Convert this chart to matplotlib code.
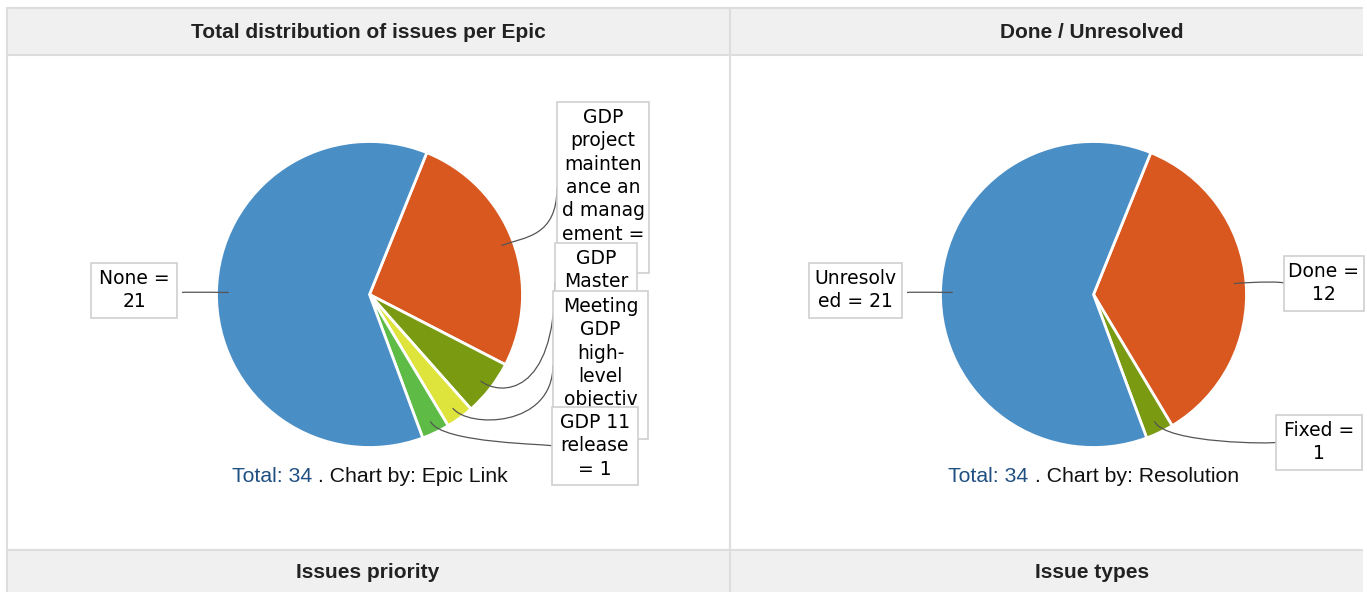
import matplotlib
matplotlib.use("Agg")
import matplotlib.pyplot as plt
from matplotlib.patches import Rectangle, PathPatch
from matplotlib.path import Path
import numpy as np

W, H = 1367, 592

# Epic chart, slices listed in the order they run clockwise from the top
epic_names = ["GDP project maintenance and management", "GDP Master",
              "Meeting GDP high-level objective", "GDP 11 release", "None"]
epic_counts = [9, 2, 1, 1, 21]
epic_colors = ["#d85820", "#7a9a12", "#dee43c", "#5ebc46", "#4a8ec6"]
epic_label_lines = [
    ["GDP", "project", "mainten", "ance an", "d manag", "ement =", "9"],
    ["GDP", "Master", "= 2"],
    ["Meeting", "GDP", "high-", "level", "objectiv", "e = 1"],
    ["GDP 11", "release", "= 1"],
    ["None =", "21"],
]

# Resolution chart
res_names = ["Done", "Fixed", "Unresolved"]
res_counts = [12, 1, 21]
res_colors = ["#d85820", "#7a9a12", "#4a8ec6"]
res_label_lines = [["Done =", "12"], ["Fixed =", "1"], ["Unresolv", "ed = 21"]]

headers_top = ["Total distribution of issues per Epic", "Done / Unresolved"]
headers_bottom = ["Issues priority", "Issue types"]
chart_by = ["Epic Link", "Resolution"]

# layout (pixels, y down)
R = 153
CENTERS = [(369.5, 294.5), (1093.5, 294.5)]
START = -68          # first slice edge sits 22 deg clockwise from 12 o'clock
LINE_H = 23.3
epic_boxes = [(557, 102, 92), (555, 243, 82), (553, 291, 95), (552, 407, 86), (91, 263, 86)]
res_boxes = [(1284, 256, 80), (1276, 415, 86), (809, 263, 93)]

BORDER = "#dddddd"
HEAD_BG = "#f0f0f0"
LINK_BLUE = "#205081"
TXT_FONT = "Liberation Sans"
LBL_FONT = "DejaVu Sans"

fig = plt.figure(figsize=(W / 100, H / 100), dpi=100)
ax = fig.add_axes([0, 0, 1, 1])


def draw_pie(center, counts, colors, label_lines, boxes):
    wedges, _ = ax.pie(counts, colors=colors, startangle=START, counterclock=True,
                       center=center, radius=R,
                       wedgeprops=dict(edgecolor="white", linewidth=2))
    for i, (w, lines, (left, top, bw)) in enumerate(zip(wedges, label_lines, boxes)):
        mid = np.deg2rad((w.theta1 + w.theta2) / 2)
        radial = np.array([np.cos(mid), np.sin(mid)])
        anchor = np.array(center) + 0.92 * R * radial
        bh = len(lines) * LINE_H + 8
        if left > center[0]:
            link = np.array([left, top + bh / 2])
        else:
            link = np.array([left + bw + 5, anchor[1]])
        p1 = anchor + 25 * radial
        p2 = np.array([link[0], p1[1]])
        path = Path([anchor, p1, p2, link],
                    [Path.MOVETO, Path.CURVE4, Path.CURVE4, Path.CURVE4])
        ax.add_patch(PathPatch(path, fill=False, edgecolor="#555555", lw=0.9, zorder=5))

        # boxes stack on top of each other in slice order, like the original
        z = 10 + 2 * i
        ax.add_patch(Rectangle((left, top), bw, bh, facecolor="white",
                               edgecolor="#cfcfcf", lw=1.2, zorder=z))
        for k, line in enumerate(lines):
            ax.text(left + bw / 2, top + 4 + (k + 0.5) * LINE_H, line,
                    ha="center", va="center", fontsize=13.5, family=LBL_FONT,
                    color="#000000", zorder=z + 1)


draw_pie(CENTERS[0], epic_counts, epic_colors, epic_label_lines, epic_boxes)
draw_pie(CENTERS[1], res_counts, res_colors, res_label_lines, res_boxes)

ax.set_xlim(0, W)
ax.set_ylim(H, 0)
ax.set_aspect("auto")
ax.axis("off")

# table frame
ax.add_patch(Rectangle((8, 8), 1355, 46, facecolor=HEAD_BG, edgecolor="none", zorder=1))
ax.add_patch(Rectangle((8, 551), 1355, 45, facecolor=HEAD_BG, edgecolor="none", zorder=1))
for y in (7.5, 54.8, 550):
    ax.plot([7, 1363], [y, y], color=BORDER, lw=1.5, zorder=2, solid_capstyle="butt")
for x in (7, 730):
    ax.plot([x, x], [7, H], color=BORDER, lw=1.5, zorder=2, solid_capstyle="butt")

for cx, t in zip((368, 1092), headers_top):
    ax.text(cx, 32, t, ha="center", va="center", fontsize=15, fontweight="bold",
            family=TXT_FONT, color="#222222")
for cx, t in zip((368, 1092), headers_bottom):
    ax.text(cx, 573, t, ha="center", va="center", fontsize=15, fontweight="bold",
            family=TXT_FONT, color="#222222")

# captions: "Total: N" in link blue, the rest in black
renderer = fig.canvas.get_renderer()
for (cx, _), counts, by in zip(CENTERS, (epic_counts, res_counts), chart_by):
    t1 = ax.text(0, 476, f"Total: {sum(counts)}", ha="left", va="center",
                 fontsize=15.3, family=TXT_FONT, color=LINK_BLUE)
    t2 = ax.text(0, 476, f" . Chart by: {by}", ha="left", va="center",
                 fontsize=15.3, family=TXT_FONT, color="#111111")
    w1 = t1.get_window_extent(renderer).width
    w2 = t2.get_window_extent(renderer).width
    x0 = cx - (w1 + w2) / 2
    t1.set_x(x0)
    t2.set_x(x0 + w1)

fig.savefig("out.png", dpi=100)
